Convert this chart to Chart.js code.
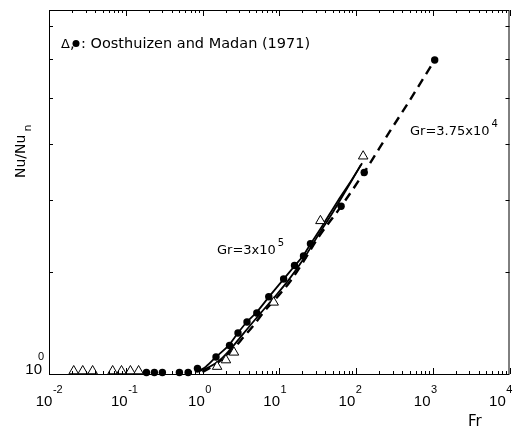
<!DOCTYPE html>
<html>
<head>
<meta charset="utf-8">
<script src="https://cdn.jsdelivr.net/npm/chart.js@4/dist/chart.umd.min.js"></script>
<style>
  html, body { margin: 0; padding: 0; background: #fff; }
</style>
</head>
<body>
<canvas id="chart" width="516" height="428"></canvas>
<script>
// Oosthuizen and Madan (1971) points
const circleFr = [0.186, 0.236, 0.30, 0.50, 0.65, 0.86, 1.5, 2.25, 2.9, 3.8, 5.1, 7.3, 11.4, 15.8, 20.7, 25.5, 64, 128, 1060];
const circleNu = [1.006, 1.006, 1.006, 1.006, 1.006, 1.022, 1.07, 1.12, 1.177, 1.23, 1.275, 1.36, 1.46, 1.54, 1.6, 1.68, 1.95, 2.23, 3.49];
const triangleFr = [0.021, 0.0275, 0.037, 0.0675, 0.088, 0.115, 0.147, 1.55, 2.02, 2.57, 8.46, 34.4, 124];
const triangleNu = [1.012, 1.012, 1.012, 1.012, 1.012, 1.012, 1.012, 1.03, 1.057, 1.09, 1.33, 1.84, 2.38];

// Gr = 3x10^5 curves (solid)
const solidAFr = [0.80, 1.05, 1.5, 2.21, 2.89, 3.78, 5.1, 7.29, 11.4, 15.8, 20.7, 25.5, 37.6, 58.8, 84.1, 120];
const solidANu = [1.008, 1.024, 1.07, 1.122, 1.177, 1.23, 1.28, 1.358, 1.459, 1.537, 1.605, 1.677, 1.816, 1.998, 2.146, 2.314];
const solidBFr = [0.85, 1.22, 1.64, 2.21, 2.98, 4.02, 5.74, 8.46, 13.2, 20.7, 32.4, 50.7, 79.2, 116];
const solidBNu = [1.008, 1.028, 1.053, 1.096, 1.149, 1.206, 1.275, 1.353, 1.453, 1.58, 1.74, 1.91, 2.11, 2.30];

// Gr = 3.75x10^4 curve (dashed)
const dashFr = [1.0, 1.41, 1.9, 2.57, 3.46, 4.66, 6.28, 9.25, 14.1, 21.3, 32.4, 64.3, 128, 277, 474, 1060];
const dashNu = [1.008, 1.035, 1.068, 1.108, 1.16, 1.215, 1.28, 1.355, 1.45, 1.575, 1.724, 1.951, 2.233, 2.629, 2.938, 3.49];

// axes
const xExps = [-2, -1, 0, 1, 2, 3, 4];
const yTickValues = [1.5, 2, 2.5, 3, 3.5, 4];
const yMin = 1, yMax = 4.26;

const pts = (xs, ys) => xs.map((v, i) => ({ x: v, y: ys[i] }));

const framePlugin = {
  id: 'frame',
  afterDraw(chart) {
    const { ctx, chartArea: a, scales: { x, y } } = chart;
    ctx.save();
    ctx.strokeStyle = '#000';
    ctx.lineWidth = 1;
    ctx.strokeRect(a.left + 0.5, a.top + 0.5, a.right - a.left - 1, a.bottom - a.top);

    const seg = (x1, y1, x2, y2) => { ctx.beginPath(); ctx.moveTo(x1, y1); ctx.lineTo(x2, y2); ctx.stroke(); };

    // log ticks on top and bottom, pointing inward
    xExps.forEach(e => {
      for (let m = 1; m < 10; m++) {
        const v = m * Math.pow(10, e);
        if (v > 1e4) break;
        const px = Math.round(x.getPixelForValue(v)) + 0.5;
        const len = m === 1 ? 6 : 3;
        seg(px, a.bottom, px, a.bottom - len);
        seg(px, a.top, px, a.top + len);
      }
    });
    yTickValues.forEach(v => {
      const py = Math.round(y.getPixelForValue(v)) + 0.5;
      seg(a.left, py, a.left + 4, py);
      seg(a.right, py, a.right - 4, py);
    });

    ctx.fillStyle = '#000';
    ctx.textBaseline = 'alphabetic';

    // x tick labels 10^k
    xExps.forEach(e => {
      const px = x.getPixelForValue(Math.pow(10, e));
      ctx.font = '15px "Liberation Sans"';
      const wb = ctx.measureText('10').width;
      ctx.font = '11px "Liberation Sans"';
      const sup = String(e);
      const ws = ctx.measureText(sup).width;
      const left = px - (wb + ws) / 2 - 1.5 * (e + 2);
      ctx.font = '15px "Liberation Sans"';
      ctx.textAlign = 'left';
      ctx.fillText('10', left, 406);
      ctx.font = '11px "Liberation Sans"';
      ctx.fillText(sup, left + wb + 0.5, 393);
    });

    // y tick label 10^0
    const y0 = y.getPixelForValue(1);
    ctx.font = '15px "Liberation Sans"';
    ctx.textAlign = 'right';
    ctx.fillText('10', 42, y0);
    ctx.textAlign = 'left';
    ctx.font = '11px "Liberation Sans"';
    ctx.fillText('0', 38, y0 - 14);

    // axis titles
    ctx.font = '15px "DejaVu Sans"';
    ctx.fillText('Fr', 468, 426);

    ctx.save();
    ctx.translate(25, 178);
    ctx.rotate(-Math.PI / 2);
    ctx.font = '14px "DejaVu Sans"';
    ctx.fillText('Nu/Nu', 0, 0);
    const wn = ctx.measureText('Nu/Nu').width;
    ctx.font = '11px "DejaVu Sans"';
    ctx.fillText('n', wn + 3, 6);
    ctx.restore();

    // legend note
    ctx.font = '13px "DejaVu Sans"';
    ctx.fillText('\u0394', 61, 48);
    ctx.font = '14.5px "DejaVu Sans"';
    ctx.fillText(',', 70, 48);
    ctx.beginPath();
    ctx.arc(76, 43.5, 3.5, 0, Math.PI * 2);
    ctx.fill();
    ctx.fillText(': Oosthuizen and Madan (1971)', 81, 48);

    // curve annotations
    ctx.font = '13px "DejaVu Sans"';
    ctx.fillText('Gr=3x10', 217, 254);
    let w = ctx.measureText('Gr=3x10').width;
    ctx.font = '10px "DejaVu Sans"';
    ctx.fillText('5', 217 + w + 2, 246);

    ctx.font = '13px "DejaVu Sans"';
    ctx.fillText('Gr=3.75x10', 410, 135);
    w = ctx.measureText('Gr=3.75x10').width;
    ctx.font = '10px "DejaVu Sans"';
    ctx.fillText('4', 410 + w + 2, 127);

    ctx.restore();
  }
};

new Chart(document.getElementById('chart'), {
  type: 'scatter',
  data: {
    datasets: [
      {
        label: 'circles',
        data: pts(circleFr, circleNu),
        pointStyle: 'circle',
        pointRadius: 3.7,
        backgroundColor: '#000',
        borderColor: '#000',
        borderWidth: 0,
        clip: false,
        order: 0
      },
      {
        label: 'triangles',
        data: pts(triangleFr, triangleNu),
        pointStyle: 'triangle',
        pointRadius: 5.5,
        backgroundColor: '#fff',
        borderColor: '#000',
        borderWidth: 1,
        clip: false,
        order: 0
      },
      {
        label: 'Gr=3x10^5 a',
        data: pts(solidAFr, solidANu),
        showLine: true,
        pointRadius: 0,
        borderColor: '#000',
        borderWidth: 1.8,
        cubicInterpolationMode: 'monotone',
        order: 1
      },
      {
        label: 'Gr=3x10^5 b',
        data: pts(solidBFr, solidBNu),
        showLine: true,
        pointRadius: 0,
        borderColor: '#000',
        borderWidth: 1.8,
        cubicInterpolationMode: 'monotone',
        order: 1
      },
      {
        label: 'Gr=3.75x10^4',
        data: pts(dashFr, dashNu),
        showLine: true,
        pointRadius: 0,
        borderColor: '#000',
        borderWidth: 2.4,
        borderDash: [9, 6],
        cubicInterpolationMode: 'monotone',
        order: 1
      }
    ]
  },
  options: {
    responsive: false,
    animation: false,
    events: [],
    layout: { padding: { top: 10, right: 4, left: 0, bottom: 0 } },
    plugins: {
      legend: { display: false },
      tooltip: { enabled: false }
    },
    scales: {
      x: {
        type: 'logarithmic',
        min: 0.01,
        max: 10000,
        grid: { display: false },
        border: { display: false },
        ticks: { display: false },
        afterFit: s => { s.height = 54; }
      },
      y: {
        type: 'logarithmic',
        min: yMin,
        max: yMax,
        grid: { display: false },
        border: { display: false },
        ticks: { display: false },
        afterFit: s => { s.width = 49; }
      }
    }
  },
  plugins: [framePlugin]
});
</script>
</body>
</html>
